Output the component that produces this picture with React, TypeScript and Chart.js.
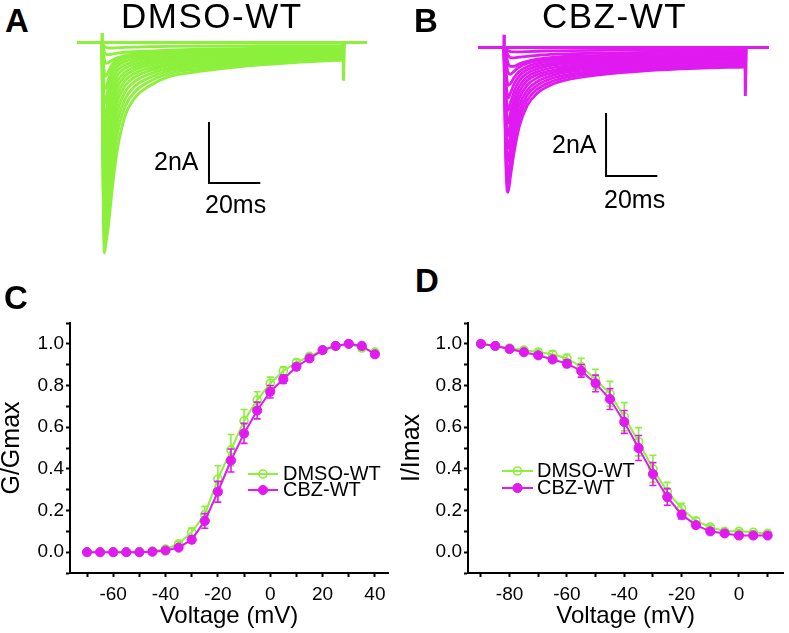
import React, { useEffect, useRef } from 'react';
import { Chart, registerables } from 'chart.js';

Chart.register(...registerables);

const GREEN = '#8cf03c';
const MAGENTA = '#e01af0';
const FONT = "'Liberation Sans', Arial, Helvetica, sans-serif";

// ---------- Panels A / B : current traces (ms, nA) ----------
const STEP_END = 94;
const TIME_A = [0, 0.4, 0.9, 1.5, 2.5, 4, 6, 9, 13, 18, 26, 38, 55, 75, 94];
const DMSO_TRACES = [
  [0, -4.5, -6.9, -6.6, -6.0, -4.8, -3.5, -2.4, -1.8, -1.45, -1.12, -0.95, -0.78, -0.66, -0.58],
  [0, -4.3, -6.5, -6.1, -5.4, -4.2, -3.0, -2.1, -1.6, -1.3, -1.02, -0.87, -0.72, -0.62, -0.55],
  [0, -4.0, -6.0, -5.6, -4.8, -3.7, -2.6, -1.85, -1.42, -1.17, -0.93, -0.8, -0.67, -0.58, -0.52],
  [0, -3.7, -5.5, -5.0, -4.2, -3.2, -2.25, -1.62, -1.26, -1.05, -0.85, -0.73, -0.62, -0.54, -0.48],
  [0, -3.3, -5.0, -4.5, -3.7, -2.8, -1.95, -1.42, -1.12, -0.94, -0.77, -0.67, -0.57, -0.5, -0.45],
  [0, -3.0, -4.5, -4.0, -3.2, -2.4, -1.7, -1.25, -1.0, -0.85, -0.7, -0.61, -0.52, -0.46, -0.42],
  [0, -2.6, -4.0, -3.5, -2.8, -2.05, -1.47, -1.1, -0.89, -0.76, -0.63, -0.55, -0.48, -0.43, -0.39],
  [0, -2.2, -3.5, -3.1, -2.4, -1.75, -1.27, -0.97, -0.79, -0.68, -0.57, -0.5, -0.44, -0.39, -0.36],
  [0, -1.8, -3.0, -2.7, -2.05, -1.48, -1.08, -0.84, -0.7, -0.6, -0.51, -0.45, -0.4, -0.36, -0.33],
  [0, -1.4, -2.5, -2.3, -1.75, -1.25, -0.92, -0.73, -0.61, -0.53, -0.46, -0.41, -0.36, -0.33, -0.3],
  [0, -1.0, -2.0, -1.9, -1.45, -1.05, -0.78, -0.62, -0.53, -0.46, -0.4, -0.36, -0.32, -0.29, -0.27],
  [0, -0.7, -1.5, -1.5, -1.2, -0.88, -0.66, -0.53, -0.45, -0.4, -0.35, -0.31, -0.28, -0.26, -0.24],
  [0, -0.45, -1.0, -1.1, -0.95, -0.72, -0.55, -0.45, -0.38, -0.34, -0.3, -0.27, -0.24, -0.22, -0.21],
  [0, -0.25, -0.55, -0.68, -0.66, -0.58, -0.5, -0.43, -0.37, -0.33, -0.29, -0.26, -0.23, -0.21, -0.2],
  [0, -0.12, -0.3, -0.38, -0.4, -0.38, -0.35, -0.32, -0.3, -0.28, -0.25, -0.22, -0.2, -0.18, -0.17],
  [0, -0.05, -0.12, -0.16, -0.18, -0.18, -0.17, -0.16, -0.15, -0.14, -0.13, -0.12, -0.11, -0.1, -0.1],
];
const BASE_T_A = [-9.75, -0.05, 0, 0.15, STEP_END, 94.12, 94.5, 103.3];
const BASE_I_A = [0, 0, 0.31, 0, 0, -1.25, 0, 0];
const SCALEBAR_A_T = [41.7, 41.7, 61.7];
const SCALEBAR_A_I = [-2.61, -4.61, -4.61];

const TIME_B = [0, 0.5, 1.0, 1.6, 2.5, 4, 6, 9, 13, 18, 26, 38, 55, 75, 94];
const CBZ_TRACES = [
  [0, -2.8, -4.3, -4.6, -4.1, -3.3, -2.5, -1.85, -1.45, -1.2, -1.0, -0.86, -0.74, -0.66, -0.62],
  [0, -2.6, -4.0, -4.3, -3.8, -3.0, -2.25, -1.68, -1.32, -1.1, -0.92, -0.8, -0.69, -0.62, -0.58],
  [0, -2.4, -3.7, -4.0, -3.5, -2.75, -2.05, -1.52, -1.2, -1.0, -0.85, -0.74, -0.64, -0.58, -0.54],
  [0, -2.1, -3.3, -3.6, -3.1, -2.45, -1.82, -1.36, -1.08, -0.91, -0.77, -0.68, -0.59, -0.53, -0.5],
  [0, -1.8, -2.9, -3.2, -2.75, -2.15, -1.6, -1.2, -0.96, -0.82, -0.7, -0.62, -0.54, -0.49, -0.46],
  [0, -1.5, -2.5, -2.8, -2.4, -1.87, -1.4, -1.06, -0.86, -0.74, -0.63, -0.56, -0.49, -0.45, -0.42],
  [0, -1.2, -2.1, -2.4, -2.08, -1.62, -1.22, -0.94, -0.77, -0.66, -0.57, -0.5, -0.44, -0.4, -0.38],
  [0, -0.95, -1.7, -2.0, -1.76, -1.38, -1.05, -0.82, -0.68, -0.58, -0.5, -0.44, -0.39, -0.36, -0.34],
  [0, -0.7, -1.3, -1.6, -1.45, -1.15, -0.9, -0.71, -0.59, -0.51, -0.44, -0.39, -0.35, -0.32, -0.3],
  [0, -0.45, -0.9, -1.2, -1.15, -0.95, -0.76, -0.61, -0.51, -0.44, -0.38, -0.34, -0.31, -0.28, -0.26],
  [0, -0.25, -0.55, -0.8, -0.85, -0.75, -0.62, -0.51, -0.43, -0.38, -0.33, -0.3, -0.27, -0.25, -0.23],
  [0, -0.12, -0.3, -0.5, -0.6, -0.6, -0.52, -0.44, -0.37, -0.32, -0.28, -0.25, -0.23, -0.21, -0.2],
  [0, -0.05, -0.15, -0.25, -0.32, -0.33, -0.31, -0.28, -0.25, -0.22, -0.2, -0.18, -0.16, -0.15, -0.14],
  [0, -0.02, -0.06, -0.1, -0.13, -0.14, -0.14, -0.13, -0.12, -0.11, -0.1, -0.09, -0.08, -0.08, -0.07],
];
const BASE_T_B = [-10.14, -0.05, 0, 0.15, STEP_END, 94.12, 94.5, 103.35];
const BASE_I_B = [0, 0, 0.4, 0, 0, -1.54, 0, 0];
const SCALEBAR_B_T = [39.8, 39.8, 59.8];
const SCALEBAR_B_I = [-2.08, -4.08, -4.08];

// ---------- Panel C : activation ----------
const VOLT_C = [-70, -65, -60, -55, -50, -45, -40, -35, -30, -25, -20, -15, -10, -5, 0, 5, 10, 15, 20, 25, 30, 35, 40];
const G_DMSO = [0, 0, 0, 0, 0, 0.005, 0.015, 0.04, 0.096, 0.18, 0.35, 0.49, 0.63, 0.73, 0.81, 0.87, 0.91, 0.94, 0.97, 0.99, 1.0, 0.98, 0.96];
const G_DMSO_ERR = [0, 0, 0, 0, 0, 0.002, 0.005, 0.01, 0.02, 0.04, 0.065, 0.075, 0.055, 0.04, 0.03, 0.02, 0.015, 0.01, 0.01, 0.008, 0.005, 0.01, 0.01];
const G_CBZ = [0, 0, 0, 0, 0, 0.002, 0.008, 0.022, 0.06, 0.15, 0.29, 0.44, 0.57, 0.68, 0.77, 0.83, 0.89, 0.93, 0.97, 0.99, 1.0, 0.99, 0.95];
const G_CBZ_ERR = [0, 0, 0, 0, 0, 0.002, 0.004, 0.008, 0.015, 0.035, 0.05, 0.055, 0.048, 0.04, 0.03, 0.02, 0.015, 0.01, 0.008, 0.006, 0.004, 0.008, 0.01];
const X_TICKS_C = [-70, -60, -50, -40, -30, -20, -10, 0, 10, 20, 30, 40];

// ---------- Panel D : inactivation ----------
const VOLT_D = [-90, -85, -80, -75, -70, -65, -60, -55, -50, -45, -40, -35, -30, -25, -20, -15, -10, -5, 0, 5, 10];
const I_DMSO = [1.0, 0.99, 0.98, 0.97, 0.96, 0.95, 0.93, 0.89, 0.83, 0.76, 0.65, 0.53, 0.4, 0.29, 0.21, 0.15, 0.12, 0.1, 0.1, 0.095, 0.09];
const I_DMSO_ERR = [0, 0.005, 0.008, 0.01, 0.012, 0.015, 0.02, 0.04, 0.048, 0.06, 0.068, 0.068, 0.065, 0.045, 0.025, 0.015, 0.01, 0.008, 0.008, 0.008, 0.008];
const I_CBZ = [1.0, 0.99, 0.975, 0.96, 0.945, 0.925, 0.905, 0.87, 0.81, 0.735, 0.625, 0.5, 0.375, 0.265, 0.18, 0.13, 0.1, 0.09, 0.08, 0.08, 0.08];
const I_CBZ_ERR = [0, 0.004, 0.006, 0.008, 0.01, 0.012, 0.018, 0.03, 0.04, 0.05, 0.055, 0.06, 0.055, 0.04, 0.02, 0.012, 0.008, 0.006, 0.006, 0.006, 0.006];
const X_TICKS_D = [-90, -80, -70, -60, -50, -40, -30, -20, -10, 0, 10];

const Y_TICKS = [-0.1, 0, 0.1, 0.2, 0.3, 0.4, 0.5, 0.6, 0.7, 0.8, 0.9, 1.0, 1.1];

// ---------- plugins ----------
const errorBars = {
  id: 'errorBars',
  afterDatasetDraw(chart: any, args: any) {
    const ds: any = chart.data.datasets[args.index];
    if (!ds.errors) return;
    const ys = chart.scales.y;
    const ctx = chart.ctx;
    ctx.save();
    ctx.strokeStyle = ds.borderColor;
    ctx.lineWidth = 1.6;
    args.meta.data.forEach((pt: any, i: number) => {
      const e = ds.errors[i];
      if (!e) return;
      const v = ds.data[i].y;
      const y1 = ys.getPixelForValue(v + e);
      const y2 = ys.getPixelForValue(v - e);
      if (Math.abs(y2 - y1) < 2) return;
      ctx.beginPath();
      ctx.moveTo(pt.x, y1);
      ctx.lineTo(pt.x, y2);
      ctx.moveTo(pt.x - 3.5, y1);
      ctx.lineTo(pt.x + 3.5, y1);
      ctx.moveTo(pt.x - 3.5, y2);
      ctx.lineTo(pt.x + 3.5, y2);
      ctx.stroke();
    });
    ctx.restore();
  },
};

const insetLegend = {
  id: 'insetLegend',
  afterDraw(chart: any, _a: any, opts: any) {
    if (!opts || !opts.order) return;
    const ctx = chart.ctx;
    opts.order.forEach((di: number, r: number) => {
      const ds: any = chart.data.datasets[di];
      const cy = opts.y + r * opts.rowGap;
      const x0 = opts.x;
      const x1 = opts.x + opts.lineLen;
      ctx.save();
      ctx.strokeStyle = ds.borderColor;
      ctx.lineWidth = ds.borderWidth;
      ctx.beginPath();
      ctx.moveTo(x0, cy);
      ctx.lineTo(x1, cy);
      ctx.stroke();
      ctx.beginPath();
      ctx.arc((x0 + x1) / 2, cy, ds.pointRadius, 0, Math.PI * 2);
      ctx.fillStyle = ds.pointBackgroundColor;
      ctx.fill();
      ctx.lineWidth = ds.pointBorderWidth;
      ctx.strokeStyle = ds.pointBorderColor;
      ctx.stroke();
      ctx.fillStyle = '#000';
      ctx.font = `${opts.fontSize}px ${FONT}`;
      ctx.textBaseline = 'middle';
      ctx.textAlign = 'left';
      ctx.fillText(ds.label, x1 + opts.textGap, cy);
      ctx.restore();
    });
  },
};

function traceConfig(time: number[], traces: number[][], color: string, baseT: number[], baseI: number[], sbT: number[], sbI: number[], xr: number[], yr: number[]) {
  const datasets: any[] = traces.map((vals, k) => ({
    label: `trace ${k + 1}`,
    data: time.map((t, i) => ({ x: t, y: vals[i] })),
    borderColor: color,
    borderWidth: 2.8,
    pointRadius: 0,
    cubicInterpolationMode: 'monotone',
    fill: false,
    clip: false,
  }));
  datasets.push({
    label: 'baseline',
    data: baseT.map((t, i) => ({ x: t, y: baseI[i] })),
    borderColor: color,
    borderWidth: 3,
    pointRadius: 0,
    tension: 0,
    fill: false,
    clip: false,
  });
  datasets.push({
    label: 'scale bar',
    data: sbT.map((t, i) => ({ x: t, y: sbI[i] })),
    borderColor: '#000',
    borderWidth: 2,
    pointRadius: 0,
    tension: 0,
    fill: false,
    clip: false,
  });
  return {
    type: 'line',
    data: { datasets },
    options: {
      animation: false,
      responsive: false,
      devicePixelRatio: 1,
      layout: { padding: 0 },
      plugins: { legend: { display: false }, tooltip: { enabled: false } },
      scales: {
        x: { type: 'linear', min: xr[0], max: xr[1], display: false },
        y: { type: 'linear', min: yr[0], max: yr[1], display: false },
      },
    },
  };
}

function ivConfig(volt: number[], dmso: number[], dmsoErr: number[], cbz: number[], cbzErr: number[], xTicks: number[], xr: number[], yTitle: string, yAxisWidth: number, padRight: number, legend: any) {
  const axisFont = { family: FONT, size: 19 };
  return {
    type: 'line',
    data: {
      datasets: [
        {
          label: 'DMSO-WT',
          data: volt.map((v, i) => ({ x: v, y: dmso[i] })),
          errors: dmsoErr,
          borderColor: GREEN,
          borderWidth: 2,
          pointRadius: 4,
          pointBorderWidth: 1.6,
          pointBackgroundColor: 'rgba(255,255,255,0)',
          pointBorderColor: GREEN,
          tension: 0,
          order: 1,
        },
        {
          label: 'CBZ-WT',
          data: volt.map((v, i) => ({ x: v, y: cbz[i] })),
          errors: cbzErr,
          borderColor: MAGENTA,
          borderWidth: 2,
          pointRadius: 4.6,
          pointBorderWidth: 1,
          pointBackgroundColor: MAGENTA,
          pointBorderColor: MAGENTA,
          tension: 0,
          order: 0,
        },
      ],
    },
    options: {
      animation: false,
      responsive: false,
      devicePixelRatio: 1,
      layout: { padding: { top: 23, right: padRight, left: 0, bottom: 0 } },
      plugins: { legend: { display: false }, tooltip: { enabled: false }, insetLegend: legend },
      scales: {
        x: {
          type: 'linear',
          min: xr[0],
          max: xr[1],
          afterBuildTicks: (s: any) => { s.ticks = xTicks.map((v) => ({ value: v })); },
          afterFit: (s: any) => { s.height = 60; },
          ticks: {
            autoSkip: false,
            maxRotation: 0,
            color: '#000',
            font: axisFont,
            padding: 6,
            callback: (v: any) => (Math.round(v) % 20 === 0 ? String(v) : ''),
          },
          grid: { drawOnChartArea: false, drawTicks: true, tickLength: 4, tickWidth: 2, tickColor: '#000', color: '#000' },
          border: { display: true, color: '#000', width: 2 },
          title: { display: true, text: 'Voltage (mV)', color: '#000', font: { family: FONT, size: 24, lineHeight: 1 }, padding: { top: 0, bottom: 5 } },
        },
        y: {
          type: 'linear',
          min: -0.1,
          max: 1.1,
          afterBuildTicks: (s: any) => { s.ticks = Y_TICKS.map((v) => ({ value: v })); },
          afterFit: (s: any) => { s.width = yAxisWidth; },
          ticks: {
            autoSkip: false,
            color: '#000',
            font: axisFont,
            padding: 2,
            callback: (v: any) => {
              const k = Math.round(v * 10);
              return k >= 0 && k <= 10 && k % 2 === 0 ? (k / 10).toFixed(1) : '';
            },
          },
          grid: { drawOnChartArea: false, drawTicks: true, tickLength: 4, tickWidth: 2, tickColor: '#000', color: '#000' },
          border: { display: true, color: '#000', width: 2 },
          title: { display: true, text: yTitle, color: '#000', font: { family: FONT, size: 25, lineHeight: 1 }, padding: { top: 0, bottom: 0 } },
        },
      },
    },
    plugins: [errorBars, insetLegend],
  };
}

const Txt = ({ x, base, size, bold, ls, children }: any) => (
  <div
    style={{
      position: 'absolute',
      left: x,
      top: base - 0.8465 * size,
      fontSize: size,
      lineHeight: `${size}px`,
      fontWeight: bold ? 700 : 400,
      letterSpacing: ls || 0,
      fontFamily: FONT,
      color: '#000',
      whiteSpace: 'nowrap',
    }}
  >
    {children}
  </div>
);

export default function App() {
  const refA = useRef<HTMLCanvasElement>(null);
  const refB = useRef<HTMLCanvasElement>(null);
  const refC = useRef<HTMLCanvasElement>(null);
  const refD = useRef<HTMLCanvasElement>(null);

  useEffect(() => {
    const charts: Chart[] = [];
    charts.push(new Chart(refA.current as any, traceConfig(TIME_A, DMSO_TRACES, GREEN, BASE_T_A, BASE_I_A, SCALEBAR_A_T, SCALEBAR_A_I, [-9.75, 103.3], [-7.13, 0.475]) as any));
    charts.push(new Chart(refB.current as any, traceConfig(TIME_B, CBZ_TRACES, MAGENTA, BASE_T_B, BASE_I_B, SCALEBAR_B_T, SCALEBAR_B_I, [-10.14, 103.35], [-4.84, 0.49]) as any));
    charts.push(new Chart(refC.current as any, ivConfig(VOLT_C, G_DMSO, G_DMSO_ERR, G_CBZ, G_CBZ_ERR, X_TICKS_C, [-76.5, 45], 'G/Gmax', 70, 7,
      { order: [0, 1], x: 248, y: 174, rowGap: 16, lineLen: 30, textGap: 5, fontSize: 20 }) as any));
    charts.push(new Chart(refD.current as any, ivConfig(VOLT_D, I_DMSO, I_DMSO_ERR, I_CBZ, I_CBZ_ERR, X_TICKS_D, [-94.5, 15.5], 'I/Imax', 68, 2,
      { order: [0, 1], x: 102, y: 171, rowGap: 17, lineLen: 31, textGap: 4, fontSize: 20 }) as any));
    return () => charts.forEach((c) => c.destroy());
  }, []);

  const cv = (ref: any, left: number, top: number, w: number, h: number) => (
    <canvas ref={ref} width={w} height={h} style={{ position: 'absolute', left, top, width: w, height: h }} />
  );

  return (
    <div style={{ position: 'fixed', left: 0, top: 0, width: 789, height: 633, background: '#fff', overflow: 'hidden' }}>
      {cv(refA, 77, 28, 290, 232)}
      {cv(refB, 478, 32, 291, 168)}
      {cv(refC, 0, 300, 395, 333)}
      {cv(refD, 400, 300, 389, 333)}
      <Txt x={5} base={32} size={33} bold>A</Txt>
      <Txt x={121} base={28} size={35} ls={1.5}>DMSO-WT</Txt>
      <Txt x={414} base={32} size={33} bold>B</Txt>
      <Txt x={542} base={28} size={35} ls={1.5}>CBZ-WT</Txt>
      <Txt x={154} base={170} size={25}>2nA</Txt>
      <Txt x={205} base={213} size={25}>20ms</Txt>
      <Txt x={552} base={153} size={25}>2nA</Txt>
      <Txt x={604} base={208} size={25}>20ms</Txt>
      <Txt x={4} base={309} size={33} bold>C</Txt>
      <Txt x={415} base={292} size={33} bold>D</Txt>
    </div>
  );
}
